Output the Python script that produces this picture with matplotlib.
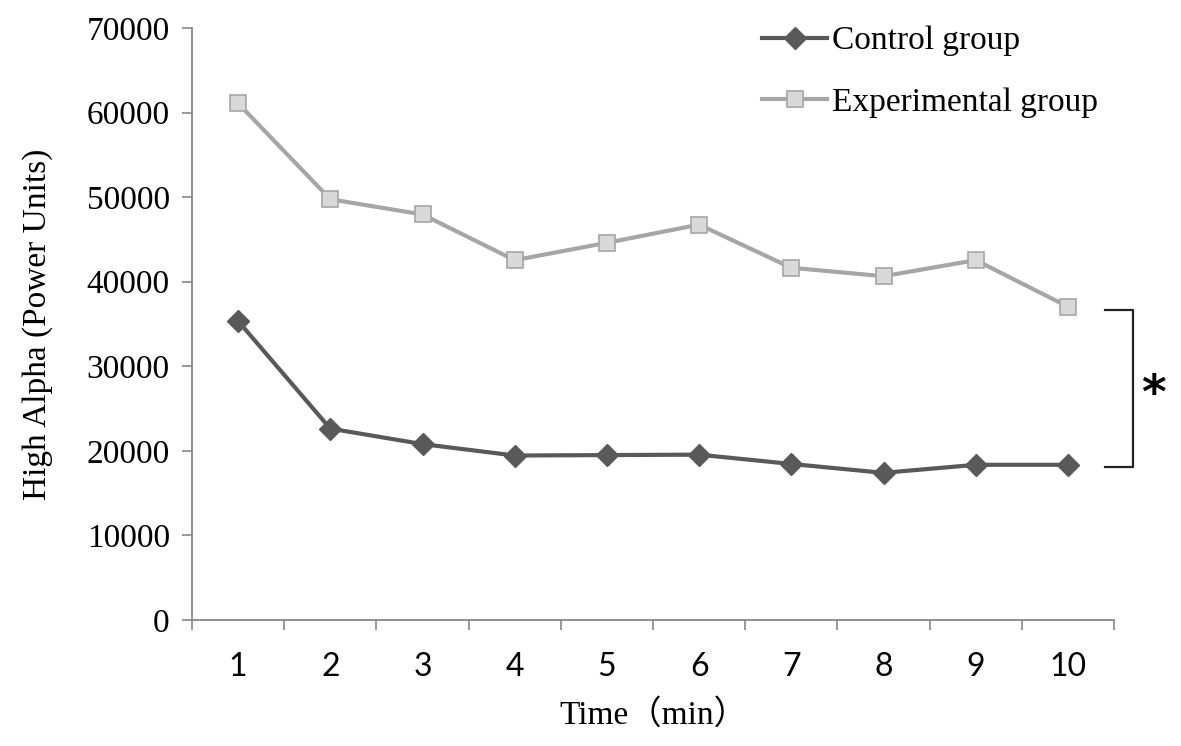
import matplotlib.pyplot as plt

#data------------------------------------------------------------------------
minutes = [1, 2, 3, 4, 5, 6, 7, 8, 9, 10]
control = [35350, 22630, 20800, 19450, 19500, 19550, 18450, 17400, 18350, 18350]
experimental = [61100, 49750, 47950, 42550, 44600, 46750, 41650, 40650, 42550, 37050]
y_ticks = [0, 10000, 20000, 30000, 40000, 50000, 60000, 70000]

serif = ['Liberation Serif', 'Noto Sans CJK SC', 'DejaVu Sans']

#figure------------------------------------------------------------------------
fig = plt.figure(figsize=(11.81, 7.46), dpi=100)
ax = fig.add_axes([192/1181, 1 - 620/746, (1114-192)/1181, (620-28)/746])

ax.plot(minutes, control, color='#595959', lw=3.0, marker='D', ms=11,
        mfc='#595959', mec='#595959', label='Control group', zorder=3)
ax.plot(minutes, experimental, color='#A6A6A6', lw=3.0, marker='s', ms=12,
        mfc='#D9D9D9', mec='#A6A6A6', mew=1.2, label='Experimental group', zorder=3)

ax.set_xlim(0.5, 10.5)
ax.set_ylim(0, 70000)
ax.set_yticks(y_ticks)
ax.set_yticklabels([str(v) for v in y_ticks], family=serif, fontsize=24)
ax.set_xticks(minutes)
ax.set_xticklabels([str(m) for m in minutes], family='Lato', fontsize=23)
ax.set_xticks([m + 0.5 for m in [0] + minutes], minor=True)
ax.tick_params(axis='x', which='major', length=0, pad=23)
ax.tick_params(axis='x', which='minor', length=7, width=1.2, color='#888888', direction='out')
ax.tick_params(axis='y', length=7, width=1.2, color='#888888', pad=9)

for s in ['top', 'right']:
    ax.spines[s].set_visible(False)
for s in ['left', 'bottom']:
    ax.spines[s].set_color('#888888')
    ax.spines[s].set_linewidth(1.3)

ax.set_ylabel('High Alpha (Power Units)', family=serif, fontsize=24, labelpad=24)
ax.set_xlabel('Time（min）', family=serif, fontsize=24, labelpad=12)

#significance bracket
bx, bx0 = 10.706, 10.40
ax.plot([bx0, bx, bx, bx0], [36700, 36700, 18050, 18050], color='#222222',
        lw=1.6, clip_on=False)
ax.text(10.93, 26500, '*', family='DejaVu Sans', fontsize=34, fontweight='bold',
        ha='center', va='center', clip_on=False)

ax.legend(loc='upper left', bbox_to_anchor=(762/1181, 1 - 26/746),
          bbox_transform=fig.transFigure, frameon=False,
          prop={'family': serif, 'size': 24}, handlelength=1.95,
          handletextpad=0.15, labelspacing=0.92, borderaxespad=0, borderpad=0)

fig.savefig('out.png', dpi=100)
